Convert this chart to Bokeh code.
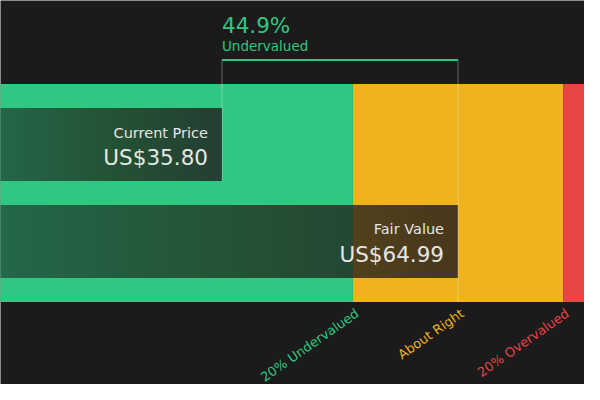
from bokeh.plotting import figure
from bokeh.models import Range1d
from bokeh.embed import file_html
from bokeh.resources import INLINE
from bokeh.core.properties import value

# ---- data ----
bar_labels = ["Current Price", "Fair Value"]
bar_values = [35.80, 64.99]
band_labels = ["20% Undervalued", "About Right", "20% Overvalued"]
band_factors = [0.8, 1.2]

BG = "#1b1b1b"
GREEN = "#2fc882"
YELLOW = "#f0b31e"
RED = "#e84545"
TEXT = "#e6e6e6"
FONT = value("DejaVu Sans")

price, fair = bar_values
x_start, x_end = 8.41, 80.63

# y range expressed in a 0..400 layout unit (top = 0)
p = figure(width=584, height=384, x_range=Range1d(x_start, x_end),
           y_range=Range1d(400, 0), x_axis_type=None, y_axis_type=None,
           output_backend="svg", toolbar_location=None, min_border=0)
p.background_fill_color = BG
p.border_fill_color = BG
p.outline_line_color = None
p.grid.visible = False

band_top, band_bot = 87, 314
lo, hi = fair * band_factors[0], fair * band_factors[1]
p.quad(left=[x_start - 5, lo, hi], right=[lo, hi, x_end + 5],
       top=band_top, bottom=band_bot, fill_color=[GREEN, YELLOW, RED],
       line_color=None)

# bars: base translucent layer + stacked layers for a left-to-right gradient
bar_rows = [(112, 188), (213, 289)]
N = 40
step_alpha = 1 - (0.20 / 0.45) ** (1.0 / N)
for v, (t, b) in zip(bar_values, bar_rows):
    x0 = x_start - 1
    p.quad(left=[x0], right=[v], top=t, bottom=b, fill_color="#1b1c1c",
           fill_alpha=0.55, line_color=None)
    lefts = [x0 + (v - x0) * (i + 1) / (N + 1) for i in range(N)]
    p.quad(left=lefts, right=[v] * N, top=t, bottom=b, fill_color="#1b1c1c",
           fill_alpha=step_alpha, line_color=None)

# guide lines
p.segment(x0=[price, fair], x1=[price, fair], y0=[62, 62], y1=[188, 314],
          line_color="white", line_alpha=0.32, line_width=1)
p.segment(x0=[price], x1=[fair], y0=[62], y1=[62], line_color=GREEN, line_width=2)

# bar labels
p.text(x=bar_values, y=[137.9, 238.5], text=bar_labels, text_align="right",
       text_baseline="alphabetic", x_offset=-14, text_color=TEXT,
       text_font=FONT, text_font_size="14.5px")
p.text(x=bar_values, y=[163.3, 264.3], text=[f"US${v:.2f}" for v in bar_values],
       text_align="right", text_baseline="alphabetic", x_offset=-14,
       text_color=TEXT, text_font=FONT, text_font_size="21.5px")

# top annotation
pct = (fair - price) / fair * 100
p.text(x=[price], y=[25.6], text=[f"{pct:.1f}%"], text_align="left",
       text_baseline="alphabetic", text_color=GREEN,
       text_font=FONT, text_font_size="21.5px")
p.text(x=[price], y=[47.2], text=["Undervalued"], text_align="left",
       text_baseline="alphabetic", text_color=GREEN,
       text_font=FONT, text_font_size="13.5px")

# bottom band labels
p.text(x=[lo, fair, hi], y=[318, 318, 318], text=band_labels,
       text_align="right", text_baseline="top", angle=35, angle_units="deg",
       text_color=[GREEN, YELLOW, RED], text_font=FONT, text_font_size="13px")

open("out.html", "w").write(file_html(p, INLINE))
